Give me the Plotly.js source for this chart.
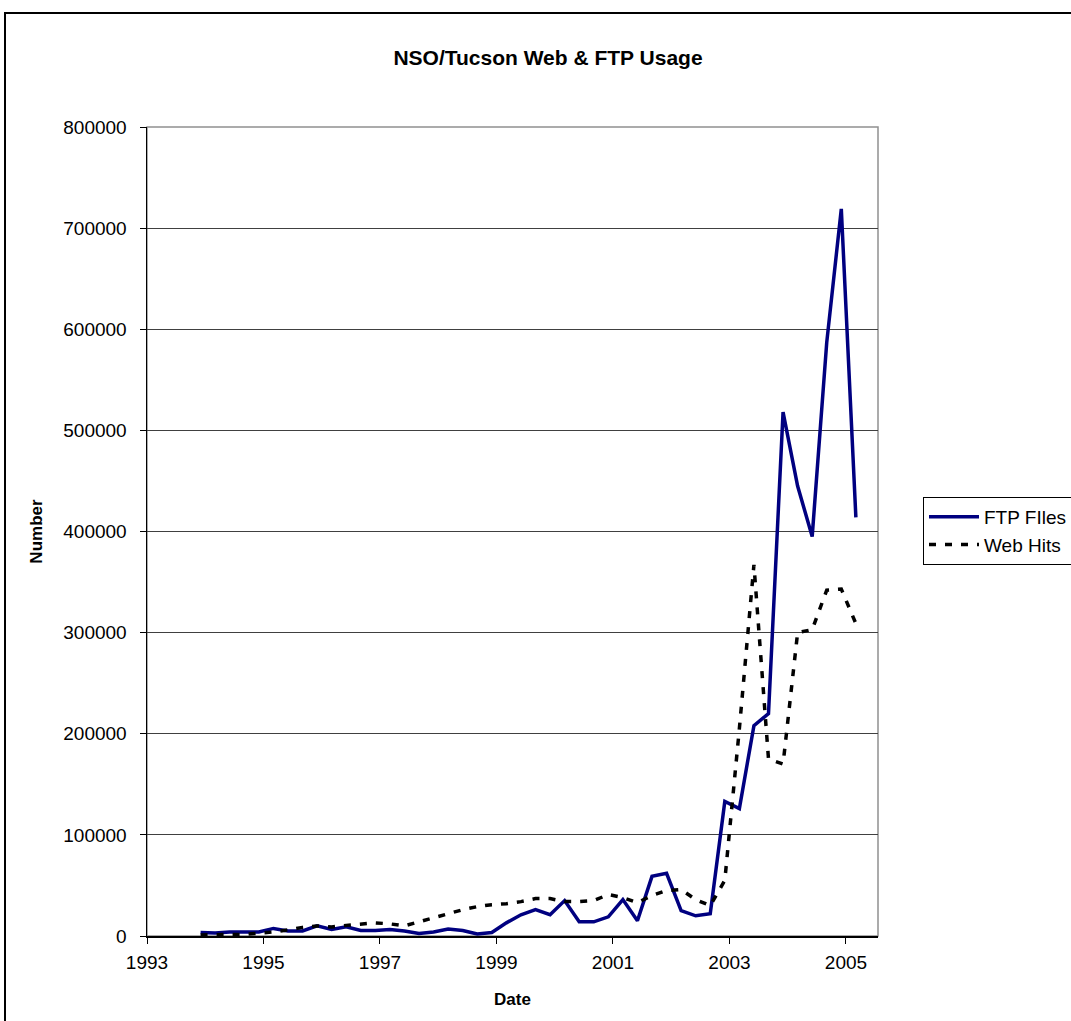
<!DOCTYPE html>
<html>
<head>
<meta charset="utf-8">
<script src="https://cdn.plot.ly/plotly-3.0.1.min.js"></script>
<style>
  html, body { margin: 0; padding: 0; background: #fff; overflow: hidden; }
  #chart { width: 1071px; height: 1021px; position: absolute; left: 0; top: 0; }
  #frame { position: absolute; left: 4px; top: 12px; width: 3000px; height: 3000px;
           border: 2px solid #000; pointer-events: none; box-sizing: border-box; }
</style>
</head>
<body>
<div id="chart"></div>
<div id="frame"></div>
<script>
// Quarterly dates (decimal years)
const dates = [
  1993.92,
  1994.17, 1994.42, 1994.67, 1994.92,
  1995.17, 1995.42, 1995.67, 1995.92,
  1996.17, 1996.42, 1996.67, 1996.92,
  1997.17, 1997.42, 1997.67, 1997.92,
  1998.17, 1998.42, 1998.67, 1998.92,
  1999.17, 1999.42, 1999.67, 1999.92,
  2000.17, 2000.42, 2000.67, 2000.92,
  2001.17, 2001.42, 2001.67, 2001.92,
  2002.17, 2002.42, 2002.67, 2002.92,
  2003.17, 2003.42, 2003.67, 2003.92,
  2004.17, 2004.42, 2004.67, 2004.92,
  2005.17
];

const ftpFiles = [
  3500,
  3000, 4000, 4000, 4000,
  7500, 5000, 5000, 10000,
  6500, 9000, 5500, 5500,
  6500, 5000, 2500, 4000,
  7000, 5500, 2000, 3500,
  13000, 21000, 26000, 21000,
  35000, 14000, 14000, 19000,
  36000, 15000, 59000, 62000,
  25000, 20000, 22000, 133000,
  126000, 208000, 220000, 518000,
  445000, 395000, 587000, 719000,
  414000
];

const webHits = [
  1000,
  1500, 1500, 1500, 2500,
  4000, 6000, 8500, 10000,
  9000, 10500, 12000, 13000,
  12000, 10000, 14000, 18000,
  22000, 26000, 29000, 31000,
  32000, 34000, 37000, 37000,
  34000, 34000, 35000, 41000,
  38000, 33000, 40000, 45000,
  46000, 36000, 30000, 55000,
  205000, 367000, 175000, 170000,
  300000, 303000, 342000, 343000,
  309000
];

const xTicks = [1993, 1995, 1997, 1999, 2001, 2003, 2005];
const yTicks = [0, 100000, 200000, 300000, 400000, 500000, 600000, 700000, 800000];

const FONT = 'Liberation Sans, Arial, sans-serif';

const traces = [
  {
    x: dates, y: ftpFiles, name: 'FTP FIles', type: 'scatter', mode: 'lines',
    line: { color: '#000080', width: 3.5 }
  },
  {
    x: dates, y: webHits, name: 'Web Hits', type: 'scatter', mode: 'lines',
    line: { color: '#000000', width: 3.5, dash: '7px,9px' }
  }
];

const layout = {
  width: 1071, height: 1021,
  margin: { l: 146.5, r: 193, t: 127, b: 85, autoexpand: false },
  paper_bgcolor: '#ffffff', plot_bgcolor: '#ffffff',
  font: { family: FONT, size: 19, color: '#000' },
  showlegend: true,
  title: {
    text: '<b>NSO/Tucson Web &amp; FTP Usage</b>',
    font: { family: FONT, size: 21, color: '#000' },
    xref: 'container', yref: 'container',
    x: 548 / 1071, xanchor: 'center',
    y: 1 - 58 / 1021, yanchor: 'middle'
  },
  xaxis: {
    range: [1993, 2005.55],
    tickmode: 'array', tickvals: xTicks, ticktext: xTicks.map(String),
    showgrid: false, zeroline: false,
    showline: true, linecolor: '#000', linewidth: 1.5,
    ticks: 'outside', ticklen: 6, tickcolor: '#000', tickwidth: 1,
    tickfont: { family: FONT, size: 19, color: '#000' },
    ticklabelstandoff: 3,
    title: { text: '<b>Date</b>', font: { family: FONT, size: 17, color: '#000' }, standoff: 21 }
  },
  yaxis: {
    range: [0, 800000],
    tickmode: 'array', tickvals: yTicks, ticktext: yTicks.map(String),
    showgrid: true, gridcolor: '#404040', gridwidth: 1,
    zeroline: false,
    showline: true, linecolor: '#000', linewidth: 1.5,
    ticks: 'outside', ticklen: 6, tickcolor: '#000', tickwidth: 1,
    tickfont: { family: FONT, size: 19, color: '#000' },
    ticklabelstandoff: 9,
    title: { text: '<b>Number</b>', font: { family: FONT, size: 17, color: '#000' }, standoff: 16 }
  },
  legend: {
    xref: 'container', yref: 'container',
    x: 923 / 1071, xanchor: 'left',
    y: 1 - 497 / 1021, yanchor: 'top',
    bgcolor: '#ffffff', bordercolor: '#000', borderwidth: 1,
    font: { family: FONT, size: 19, color: '#000' },
    itemwidth: 50,
    tracegroupgap: 0
  },
  shapes: [
    { type: 'rect', xref: 'paper', yref: 'paper', x0: 0, x1: 1, y0: 0, y1: 1,
      line: { color: '#909090', width: 1.5 }, fillcolor: 'rgba(0,0,0,0)', layer: 'below' }
  ]
};

Plotly.newPlot('chart', traces, layout, { displayModeBar: false, staticPlot: true });
</script>
</body>
</html>
